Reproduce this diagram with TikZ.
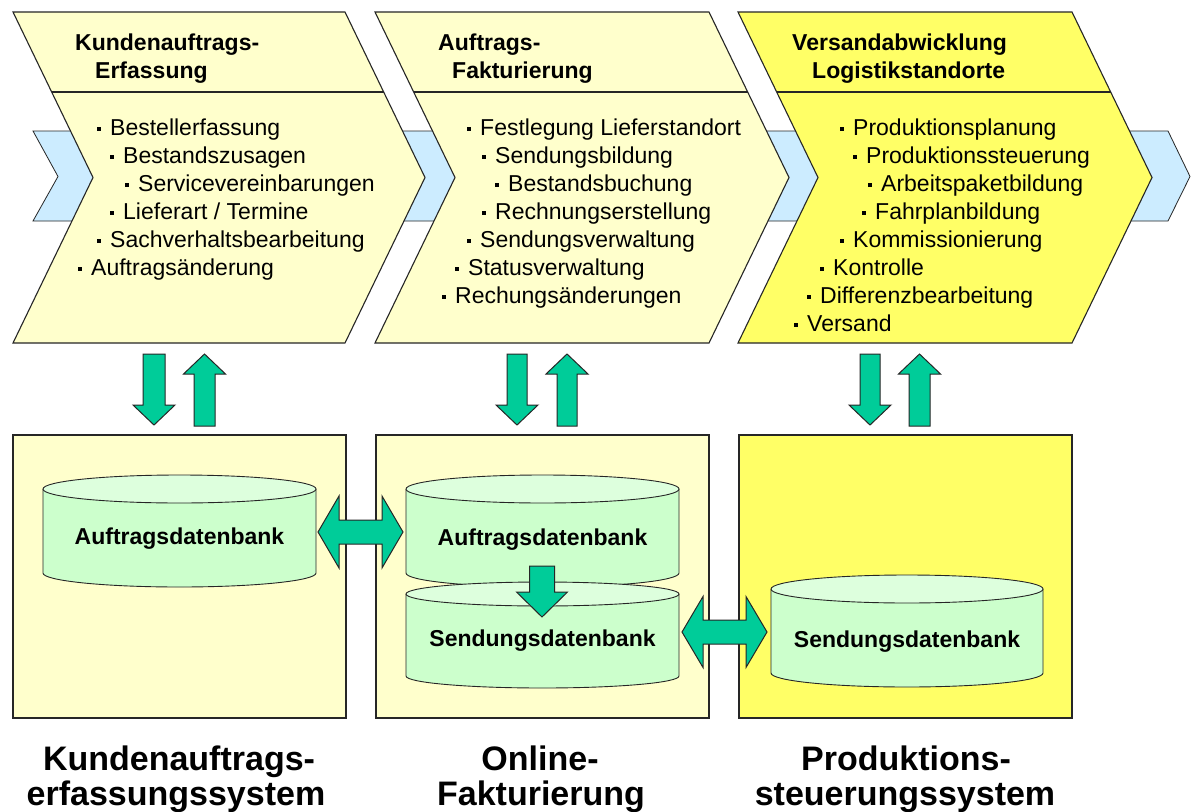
\documentclass[tikz,border=0pt]{standalone}
\usepackage{fontspec}
\setmainfont{Liberation Sans}
\definecolor{chevlight}{HTML}{FFFFCC}
\definecolor{chevstrong}{HTML}{FFFF66}
\definecolor{flowblue}{HTML}{CCECFF}
\definecolor{arrowgreen}{HTML}{00CC99}
\definecolor{cylbody}{HTML}{CCFFCC}
\definecolor{cyltop}{HTML}{DDFFDD}
\definecolor{edge}{HTML}{262626}
\newcommand\itembullet{\rule[4.3pt]{4pt}{4pt}\hspace{9pt}}
% database cylinder: name, centre x, x radius, top y, bottom y, y radius, label baseline, label
\newcommand\database[8]{%
  \fill[cylbody] ({#2-#3},#4) -- ({#2-#3},#5) arc[start angle=180, end angle=0, x radius=#3, y radius=#6] -- ({#2+#3},#4) -- cycle;
  \draw[cylline] ({#2-#3},#4) -- ({#2-#3},#5) arc[start angle=180, end angle=0, x radius=#3, y radius=#6] -- ({#2+#3},#4);
  \draw[cylline, fill=cyltop] (#2,#4) ellipse[x radius=#3, y radius=#6];
  \node[dblabel] (#1) at (#2,#7) {#8};
}
\tikzset{
  chev/.style={draw=edge, line width=1.1pt, line join=miter, fill=chevlight},
  divider/.style={draw=edge, line width=1.8pt},
  flow/.style={draw=edge, line width=0.8pt, fill=flowblue},
  sysbox/.style={draw=edge, line width=1.3pt, fill=chevlight},
  cylline/.style={draw=edge, line width=0.9pt},
  garrow/.style={draw=edge, line width=1pt, fill=arrowgreen, line join=miter},
  head/.style={anchor=base west, inner sep=0pt, font=\bfseries\fontsize{23}{26}\selectfont},
  item/.style={anchor=base west, inner sep=0pt, font=\fontsize{23}{26}\selectfont},
  dblabel/.style={anchor=base, inner sep=0pt, font=\bfseries\fontsize{23}{26}\selectfont},
  syslabel/.style={anchor=base, inner sep=0pt, font=\bfseries\fontsize{34}{38}\selectfont},
  % block arrows: shaft half width / head half width / head length / total length
  pics/downarrow/.style args={#1/#2/#3/#4}{code={
    \draw[garrow] (-#1,0) -- (#1,0) -- (#1,#4-#3) -- (#2,#4-#3) -- (0,#4)
      -- (-#2,#4-#3) -- (-#1,#4-#3) -- cycle;}},
  pics/uparrow/.style args={#1/#2/#3/#4}{code={
    \draw[garrow] (0,0) -- (#2,#3) -- (#1,#3) -- (#1,#4) -- (-#1,#4)
      -- (-#1,#3) -- (-#2,#3) -- cycle;}},
  pics/twoway/.style args={#1/#2/#3/#4}{code={
    \draw[garrow] (0,0) -- (#3,-#2) -- (#3,-#1) -- (#4-#3,-#1) -- (#4-#3,-#2)
      -- (#4,0) -- (#4-#3,#2) -- (#4-#3,#1) -- (#3,#1) -- (#3,#2) -- cycle;}},
}
\begin{document}
\begin{tikzpicture}[x=1pt, y=-1pt]
\useasboundingbox (0,0) rectangle (1191,811);
\fill[white] (0,0) rectangle (1191,811);

% process flow band behind the chevrons
\draw[flow] (33,131) -- (1168,131) -- (1190,176.5) -- (1168,221) -- (33,221) -- (58,176.5) -- cycle;

% process chevrons
\draw[chev] (13,12) -- (345,12) -- (425,177.5) -- (345,343) -- (13,343) -- (93,177.5) -- cycle;
\draw[divider] (51.8,92) -- (383.8,92);
\draw[chev] (375,12) -- (709,12) -- (789,177.5) -- (709,343) -- (375,343) -- (455,177.5) -- cycle;
\draw[divider] (413.8,92) -- (747.8,92);
\draw[chev, fill=chevstrong] (738,12) -- (1072,12) -- (1152,177.5) -- (1072,343) -- (738,343) -- (818,177.5) -- cycle;
\draw[divider] (776.8,92) -- (1110.8,92);

% chevron headings
\node[head] (h1a) at (75,50) {Kundenauftrags-};
\node[head] (h1b) at (95,78) {Erfassung};
\node[head] (h2a) at (438,50) {Auftrags-};
\node[head] (h2b) at (452,78) {Fakturierung};
\node[head] (h3a) at (792,50) {Versandabwicklung};
\node[head] (h3b) at (812,78) {Logistikstandorte};

% activities of the first step
\node[item] (a1) at (97,135) {\itembullet Bestellerfassung};
\node[item] (a2) at (110,163) {\itembullet Bestandszusagen};
\node[item] (a3) at (125,191) {\itembullet Servicevereinbarungen};
\node[item] (a4) at (110,219) {\itembullet Lieferart / Termine};
\node[item] (a5) at (97,247) {\itembullet Sachverhaltsbearbeitung};
\node[item] (a6) at (78,275) {\itembullet Auftragsänderung};

% activities of the second step
\node[item] (b1) at (467,135) {\itembullet Festlegung Lieferstandort};
\node[item] (b2) at (482,163) {\itembullet Sendungsbildung};
\node[item] (b3) at (495,191) {\itembullet Bestandsbuchung};
\node[item] (b4) at (482,219) {\itembullet Rechnungserstellung};
\node[item] (b5) at (467,247) {\itembullet Sendungsverwaltung};
\node[item] (b6) at (455,275) {\itembullet Statusverwaltung};
\node[item] (b7) at (442,303) {\itembullet Rechungsänderungen};

% activities of the third step
\node[item] (c1) at (840,135) {\itembullet Produktionsplanung};
\node[item] (c2) at (853,163) {\itembullet Produktionssteuerung};
\node[item] (c3) at (868,191) {\itembullet Arbeitspaketbildung};
\node[item] (c4) at (862,219) {\itembullet Fahrplanbildung};
\node[item] (c5) at (840,247) {\itembullet Kommissionierung};
\node[item] (c6) at (820,275) {\itembullet Kontrolle};
\node[item] (c7) at (807,303) {\itembullet Differenzbearbeitung};
\node[item] (c8) at (794,331) {\itembullet Versand};

% exchange between process steps and systems
\pic at (154,354) {downarrow=11/21/20/71};
\pic at (204.5,354) {uparrow=10.5/21/20/72};
\pic at (517,354) {downarrow=10/21/20/71};
\pic at (567,354) {uparrow=10/21/20/72};
\pic at (870,354) {downarrow=10/21/20/71};
\pic at (919.5,354) {uparrow=10.5/21/20/72};

% system boxes
\draw[sysbox] (13,435) rectangle (346,718);
\draw[sysbox] (376,435) rectangle (709,718);
\draw[sysbox, fill=chevstrong] (739,435) rectangle (1072,718);

% databases
\database{db1}{179.5}{136.5}{489}{573}{14}{544}{Auftragsdatenbank}
\database{db2}{542.5}{136.5}{489}{573}{14}{545}{Auftragsdatenbank}
\database{db3}{542.5}{136.5}{594}{676}{12}{646}{Sendungsdatenbank}
\database{db4}{907}{136}{589}{673}{14}{647}{Sendungsdatenbank}

% data transfers between databases
\pic at (542,566) {downarrow=12.5/25.5/25/51};
\pic at (318,532) {twoway=12/36/21/85};
\pic at (682,632) {twoway=12/35.5/21/85};

% system names
\node[syslabel] (s1a) at (179,770) {Kundenauftrags-};
\node[syslabel] (s1b) at (176,805) {erfassungssystem};
\node[syslabel] (s2a) at (540,770) {Online-};
\node[syslabel] (s2b) at (541,805) {Fakturierung};
\node[syslabel] (s3a) at (906,770) {Produktions-};
\node[syslabel] (s3b) at (905,805) {steuerungssystem};
\end{tikzpicture}
\end{document}
